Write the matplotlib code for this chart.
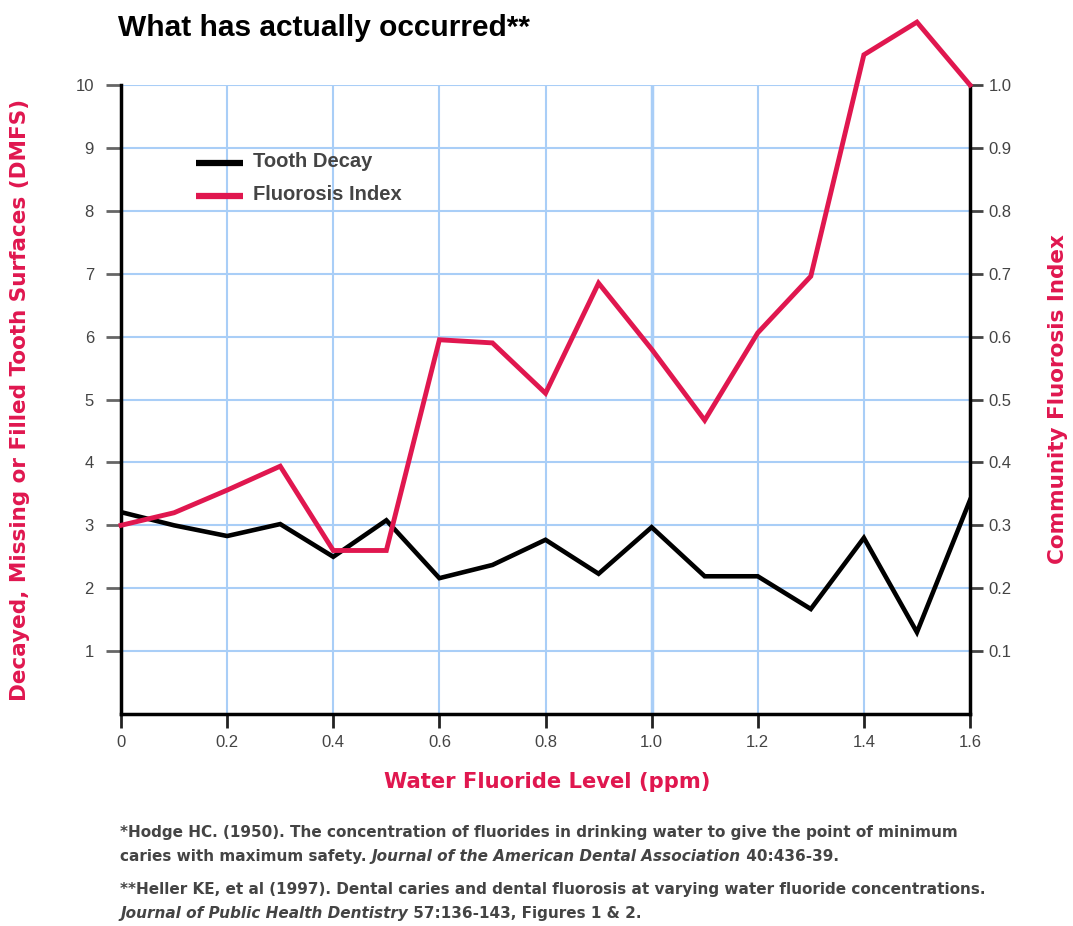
import matplotlib.pyplot as plt

plt.rcParams['font.family'] = ['Liberation Sans', 'DejaVu Sans']

fluoride = [0.0, 0.1, 0.2, 0.3, 0.4, 0.5, 0.6, 0.7, 0.8, 0.9, 1.0, 1.1, 1.2, 1.3, 1.4, 1.5, 1.6]
tooth_decay = [3.21, 3.0, 2.83, 3.02, 2.5, 3.08, 2.16, 2.37, 2.77, 2.23, 2.97, 2.19, 2.19, 1.67, 2.8, 1.3, 3.4]
fluorosis = [0.30, 0.32, 0.356, 0.394, 0.26, 0.26, 0.595, 0.59, 0.51, 0.685, 0.58, 0.467, 0.606, 0.696, 1.048, 1.10, 1.0]

left_ticks = [1, 2, 3, 4, 5, 6, 7, 8, 9, 10]
right_ticks = [0.1, 0.2, 0.3, 0.4, 0.5, 0.6, 0.7, 0.8, 0.9, 1.0]
x_ticks = [0, 0.2, 0.4, 0.6, 0.8, 1.0, 1.2, 1.4, 1.6]
x_labels = ['0', '0.2', '0.4', '0.6', '0.8', '1.0', '1.2', '1.4', '1.6']

footnotes = [
    [('*Hodge HC. (1950). The concentration of fluorides in drinking water to give the point of minimum', 'normal')],
    [('caries with maximum safety. ', 'normal'),
     ('Journal of the American Dental Association', 'italic'),
     (' 40:436-39.', 'normal')],
    [('**Heller KE, et al (1997). Dental caries and dental fluorosis at varying water fluoride concentrations.', 'normal')],
    [('Journal of Public Health Dentistry', 'italic'),
     (' 57:136-143, Figures 1 & 2.', 'normal')],
]

pink = '#E0174F'
grid_blue = '#A9CEF7'
tick_gray = '#444444'
label_font = ['DejaVu Sans']

fig = plt.figure(figsize=(10.73, 9.26), dpi=100)
ax = fig.add_axes([0.1128, 0.2289, 0.7912, 0.6793])
ax2 = ax.twinx()

ax.set_xlim(0, 1.6)
ax.set_ylim(0, 10)
ax2.set_ylim(0, 1.0)

for y in left_ticks:
    ax.axhline(y, color=grid_blue, lw=1.5, zorder=0)
for x in x_ticks[1:-1]:
    ax.axvline(x, color=grid_blue, lw=2.5 if x == 1.0 else 1.5, zorder=0)

ax.plot(fluoride, tooth_decay, color='black', lw=3.3, solid_joinstyle='miter', zorder=3)
ax2.plot(fluoride, fluorosis, color=pink, lw=3.5, solid_joinstyle='miter', clip_on=False, zorder=3)

for a in (ax, ax2):
    a.spines['top'].set_visible(False)
ax.spines['right'].set_visible(False)
ax2.spines['left'].set_visible(False)
ax2.spines['bottom'].set_visible(False)
ax.spines['left'].set_linewidth(2.5)
ax.spines['bottom'].set_linewidth(2.5)
ax2.spines['right'].set_linewidth(2.5)
ax2.spines['right'].set_bounds(0, 1.0)

ax.set_yticks(left_ticks)
ax.set_yticklabels([str(t) for t in left_ticks])
ax2.set_yticks(right_ticks)
ax2.set_yticklabels(['%.1f' % t for t in right_ticks])
ax.set_xticks(x_ticks)
ax.set_xticklabels(x_labels)

ax.tick_params(axis='y', length=10.5, width=2, color='#666666', labelsize=12, labelcolor=tick_gray, pad=9)
ax.tick_params(axis='x', length=10, width=2, color='#222222', labelsize=12, labelcolor=tick_gray, pad=5)
ax2.tick_params(axis='y', length=9.5, width=2, color='#444444', labelsize=12, labelcolor=tick_gray, pad=4)

ax.set_xlabel('Water Fluoride Level (ppm)', color=pink, fontsize=15.2, fontweight='bold', family=label_font)
ax.xaxis.set_label_coords(0.502, -0.108)
ax.xaxis.label.set_va('center')
ax.set_ylabel('Decayed, Missing or Filled Tooth Surfaces (DMFS)', color=pink,
              fontsize=15.5, fontweight='bold', family=label_font)
ax.yaxis.set_label_coords(-0.119, 0.5)
ax.yaxis.label.set_va('center')
ax2.set_ylabel('Community Fluorosis Index', color=pink, fontsize=15.5, fontweight='bold', family=label_font)
ax2.yaxis.set_label_coords(1.104, 0.5)
ax2.yaxis.label.set_va('center')

# legend drawn by hand like the original
ax.plot([0.141, 0.230], [8.76, 8.76], color='black', lw=4.5, solid_capstyle='butt', clip_on=False)
ax.plot([0.141, 0.230], [8.235, 8.235], color=pink, lw=4.5, solid_capstyle='butt', clip_on=False)
ax.text(0.249, 8.78, 'Tooth Decay', fontsize=14.5, fontweight='bold', color='#444444', va='center')
ax.text(0.249, 8.255, 'Fluorosis Index', fontsize=14.5, fontweight='bold', color='#444444', va='center')

fig.text(0.110, 0.970, 'What has actually occurred**', fontsize=21.5, fontweight='bold', va='center', ha='left')

# footnotes, with italic journal names
foot_y = [0.1005, 0.0755, 0.0390, 0.0140]
renderer = fig.canvas.get_renderer()
for y, parts in zip(foot_y, footnotes):
    x = 0.112
    for txt, style in parts:
        t = fig.text(x, y, txt, fontsize=11, fontweight='bold', fontstyle=style,
                     family=label_font, color='#444444', va='center')
        bb = t.get_window_extent(renderer=renderer)
        x = fig.transFigure.inverted().transform((bb.x1, bb.y0))[0]

fig.savefig('out.png', dpi=100)
